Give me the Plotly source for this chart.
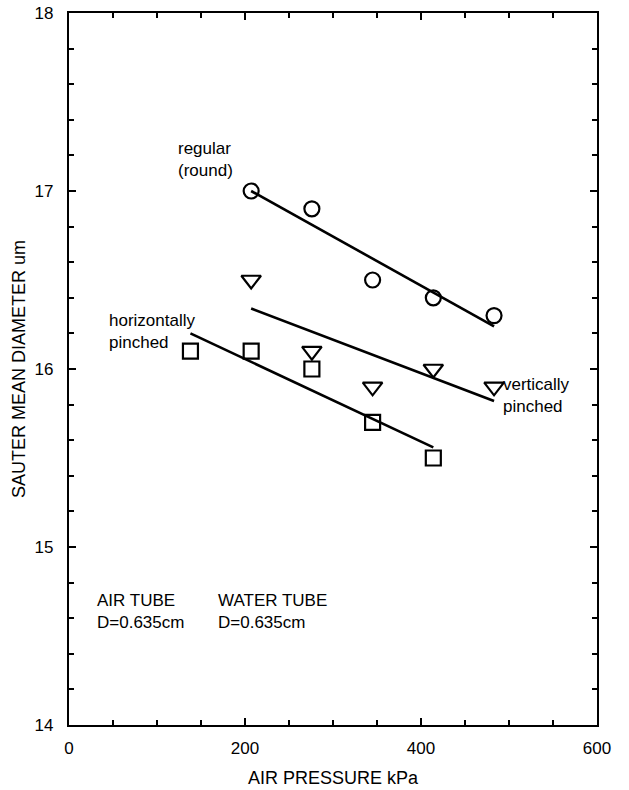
import numpy as np
import plotly.graph_objects as go

# Data (air pressure in kPa, Sauter mean diameter in um)
pressure_round = [207, 276, 345, 414, 483]
smd_round = [17.0, 16.9, 16.5, 16.4, 16.3]

pressure_vert = [207, 276, 345, 414, 483]
smd_vert = [16.5, 16.1, 15.9, 16.0, 15.9]

pressure_horiz = [138, 207, 276, 345, 414]
smd_horiz = [16.1, 16.1, 16.0, 15.7, 15.5]

x_ticks = [0, 200, 400, 600]
y_ticks = [14, 15, 16, 17, 18]

FONT = "Liberation Sans, Arial, Helvetica, sans-serif"

fig = go.Figure()

def add_series(xs, ys, symbol, size):
    xs = np.array(xs, dtype=float)
    ys = np.array(ys, dtype=float)
    slope, icpt = np.polyfit(xs, ys, 1)
    xf = np.array([xs.min(), xs.max()])
    fig.add_trace(go.Scatter(x=xf, y=slope * xf + icpt, mode="lines",
                             line=dict(color="black", width=2.6),
                             showlegend=False, hoverinfo="skip"))
    fig.add_trace(go.Scatter(x=xs, y=ys, mode="markers",
                             marker=dict(symbol=symbol, size=size,
                                         color="black",
                                         line=dict(color="black", width=2.2)),
                             showlegend=False))

add_series(pressure_round, smd_round, "circle-open", 15)
add_series(pressure_vert, smd_vert, "triangle-down-open", 17)
add_series(pressure_horiz, smd_horiz, "square-open", 15)

ann_font = dict(family=FONT, size=17, color="black")
labels = [
    (123, 17.175, "regular<br>(round)"),
    (44, 16.21, "horizontally<br>pinched"),
    (492, 15.85, "vertically<br>pinched"),
    (31, 14.64, "AIR TUBE<br>D=0.635cm"),
    (168, 14.64, "WATER TUBE<br>D=0.635cm"),
]
for x, y, t in labels:
    fig.add_annotation(x=x, y=y, text=t, showarrow=False, xanchor="left",
                       yanchor="middle", align="left", font=ann_font,
                       borderpad=0)

axis_common = dict(
    showline=True, linecolor="black", linewidth=2.2, mirror="allticks",
    ticks="inside", ticklen=7, tickwidth=1.8, tickcolor="black",
    showgrid=False, zeroline=False, automargin=False,
    tickfont=dict(family=FONT, size=17, color="black"),
)

fig.update_xaxes(range=[0, 600], tickvals=x_ticks,
                 minor=dict(dtick=50, ticks="inside", ticklen=5,
                            tickwidth=1.8, tickcolor="black", showgrid=False),
                 ticklabelstandoff=6,
                 title=dict(text="AIR PRESSURE kPa",
                            font=dict(family=FONT, size=18, color="black"),
                            standoff=15),
                 **axis_common)
fig.update_yaxes(range=[14, 18], tickvals=y_ticks,
                 minor=dict(dtick=0.2, ticks="inside", ticklen=5,
                            tickwidth=1.8, tickcolor="black", showgrid=False),
                 ticklabelstandoff=10,
                 title=dict(text="SAUTER MEAN DIAMETER um",
                            font=dict(family=FONT, size=18, color="black"),
                            standoff=4),
                 **axis_common)

fig.update_layout(width=629, height=790,
                  margin=dict(l=69, r=32, t=13, b=65, autoexpand=False),
                  paper_bgcolor="white", plot_bgcolor="white",
                  showlegend=False)

fig.write_html("out.html")
